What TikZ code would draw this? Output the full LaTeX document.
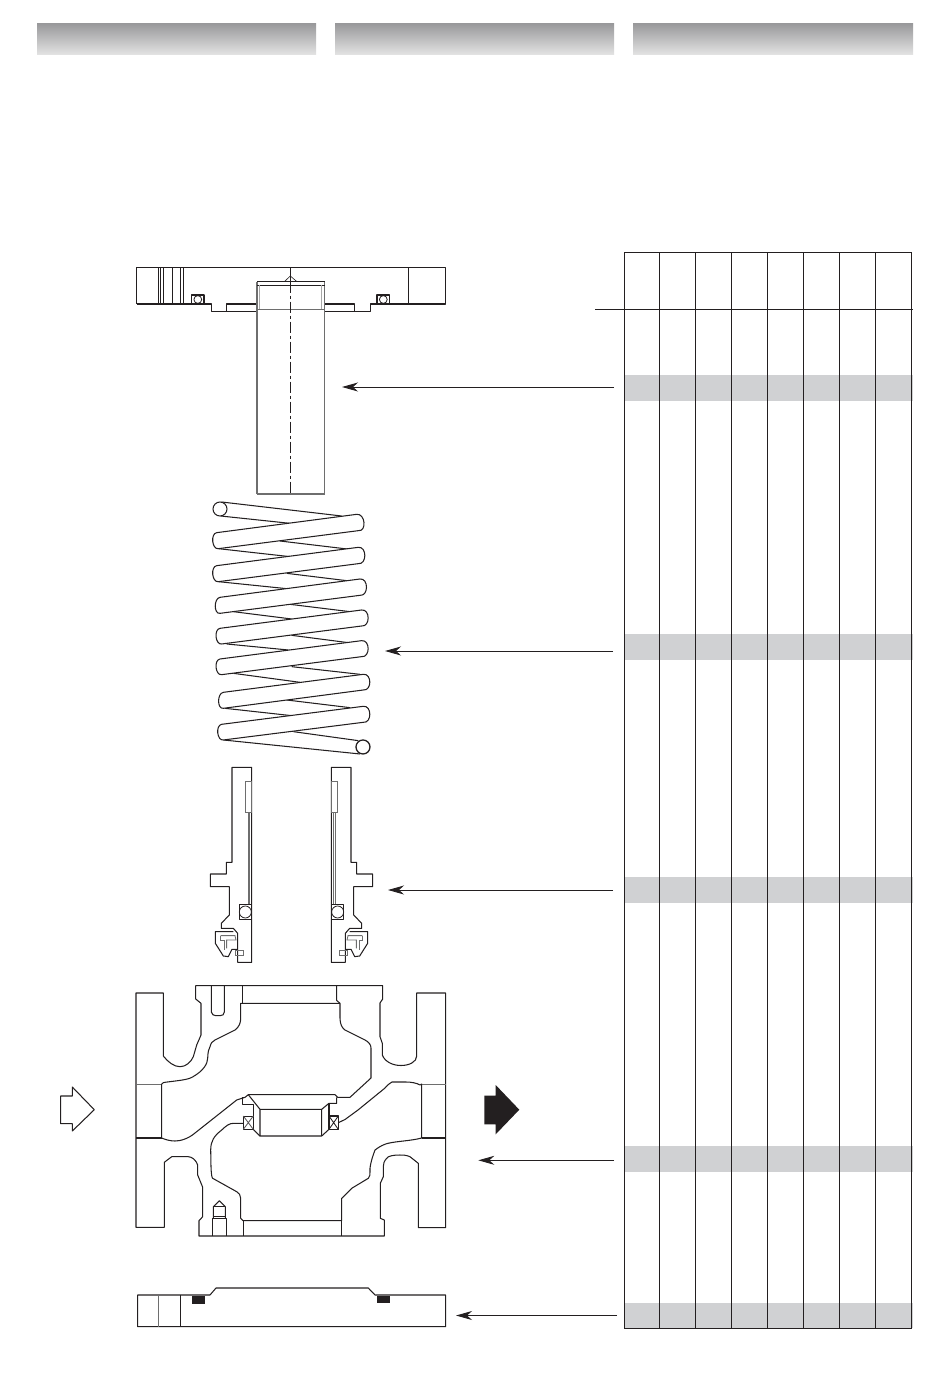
\documentclass[tikz,border=0pt]{standalone}
\usetikzlibrary{arrows.meta}
\definecolor{inkc}{HTML}{231F20}
\definecolor{bandc}{HTML}{D0D1D3}
\definecolor{headtop}{HTML}{9A9A9C}
\definecolor{headbot}{HTML}{E4E4E4}
\definecolor{softc}{HTML}{6E6E6E}
\tikzset{
  part/.style={draw=inkc,line width=1.05pt,line join=round},
  thinpart/.style={draw=inkc,line width=0.8pt,line join=round},
  softpart/.style={draw=softc,line width=0.85pt},
  grid/.style={draw=inkc,line width=0.95pt},
  band/.style={fill=bandc,draw=none},
  headbar/.style={top color=headtop,bottom color=headbot,draw=none},
  leader/.style={draw=inkc,line width=0.9pt,-{Stealth[length=16pt,width=9pt,inset=5pt]}},
}
\newcommand{\halfpiece}{%
  \draw[part] (96,22) -- (96,307) -- (79,307) -- (79,342) -- (31,342) -- (31,380) -- (88,380) -- (88,465) -- (64,490) -- (64,505) -- (100,505) -- (113,520) -- (113,607) -- (155,607) -- (155,22) -- cycle;
  \draw[softpart] (136,63) rectangle (155,157);
  \draw[softpart,line width=0.7pt] (144,157) -- (144,433);
  \draw[softpart,line width=0.7pt] (148.5,157) -- (148.5,433);
  \draw[part] (118,433) rectangle (155,478);
  \draw[thinpart] (136,456) circle[radius=6pt];
  \draw[part] (100,515) -- (46,515) -- (46,550) -- (70,588) -- (85,590) -- (96,568) -- (113,568);
  \draw[softpart] (62,527) -- (105,527) -- (108,540) -- (80,540) -- (80,565);
  \draw[softpart] (62,527) -- (62,540) -- (72,540) -- (72,570);
  \draw[softpart] (106,570) rectangle (130,586);
}
\newcommand{\frontcoil}[8]{%
  \draw[part,fill=white] (#1,#2) -- (#5,#6) .. controls +(26,-3) and (#7+26,#8+3) .. (#7,#8) -- (#3,#4) .. controls +(-19,3) and (#1-19,#2+3) .. cycle;
}
\begin{document}
\begin{tikzpicture}[x=1pt,y=-1pt]
\useasboundingbox (0,0) rectangle (950,1388);
% headers
\shade[headbar] (37,24) rectangle (316,55);
\shade[headbar] (335,24) rectangle (614,55);
\shade[headbar] (633,24) rectangle (913,55);
% table
\foreach \ya/\yb in {375/401,634/660,877/903,1146/1172,1303/1328}
  \fill[band] (625,\ya) rectangle (913,\yb);
\foreach \xx in {659.5,695.5,731.5,767.5,803.5,839.5,875.5}
  \draw[grid] (\xx,252.5) -- (\xx,1328.5);
\draw[grid] (624.5,252.5) rectangle (911.5,1328.5);
\draw[grid] (595,309.5) -- (913,309.5);
% top flange
\draw[part] (136.5,304) -- (136.5,267.5) -- (445.5,267.5) -- (445.5,304) -- (370.5,304) -- (370.5,311.3) -- (354.5,311.3) -- (354.5,304) -- (324.5,304);
\draw[part] (257,304) -- (226.3,304) -- (226.3,311.3) -- (211.7,311.3) -- (211.7,304) -- (136.5,304);
\draw[part] (226.3,311.3) -- (257,311.3);
\draw[part] (324.5,311.3) -- (354.5,311.3);
\foreach \xx in {158.3,160.7,163.7,172.3,180.3,408.3}
  \draw[part,line width=0.7pt] (\xx,267.5) -- (\xx,304);
\draw[part,line width=1.3pt] (183.3,267.5) -- (183.3,304);
\draw[part] (191.7,295) rectangle (204,304);
\draw[thinpart] (197.8,299.5) circle[radius=3.9pt];
\draw[part] (377,295) rectangle (389.7,304);
\draw[thinpart] (383.3,299.5) circle[radius=3.9pt];
% shaft
\draw[softpart,line width=1.2pt] (257,494) -- (257,281.7);
\draw[softpart,line width=1.2pt] (324.5,494) -- (324.5,281.7);
\draw[softpart,line width=1.2pt] (257,494) -- (324.5,494);
\draw[part] (257,281.7) -- (324.5,281.7);
\draw[part,line width=0.7pt] (257,285) -- (324.5,285);
\draw[softpart,draw=softc!60] (259.5,285) -- (259.5,309);
\draw[softpart,draw=softc!60] (321.5,285) -- (321.5,309);
\draw[softpart] (257,309) -- (324.5,309);
\draw[part,line width=0.6pt] (284.3,281.7) -- (290.3,276) -- (297,281.7);
\draw[part] (290.3,267.5) -- (290.3,281.7);
\draw[part,line width=0.8pt,dash pattern=on 11pt off 3pt on 3pt off 3pt] (290.3,281.7) -- (290.3,494);
% spring
\begin{scope}[shift={(190,490)},x=0.3333pt,y=-0.3333pt]
  \foreach \a/\b/\c/\d in {95/36/455/78,92/78/300/100,270/153/480/178,85/176/300/200,290/250/470/272,85/275/300/297,300/343/480/365,130/365/305/387,305/436/475/458,110/462/295/480,305/530/510/553,130/550/330/577,290/630/480/653,105/655/305/677,310/725/505/752,100/750/510/792}
    \draw[part] (\a,\b) -- (\c,\d);
  \frontcoil{80}{128}{85}{176}{500}{73}{505}{122}
  \frontcoil{80}{227}{85}{275}{505}{172}{505}{221}
  \frontcoil{90}{322}{90}{370}{510}{267}{510}{316}
  \frontcoil{90}{415}{95}{462}{515}{360}{515}{408}
  \frontcoil{90}{507}{95}{554}{515}{452}{515}{500}
  \frontcoil{100}{607}{100}{655}{520}{553}{520}{600}
  \frontcoil{95}{703}{100}{750}{520}{649}{520}{697}
  \draw[part,fill=white] (90,57) circle[radius=7pt];
  \draw[part,fill=white,line width=1.3pt] (519,771) circle[radius=7pt];
\end{scope}
% split ring halves
\begin{scope}[shift={(200,760)},x=0.3333pt,y=-0.3333pt]
  \halfpiece
\end{scope}
\begin{scope}[shift={(383,760)},x=-0.3333pt,y=-0.3333pt]
  \halfpiece
\end{scope}
% valve body outer contour
\draw[part] (136,993) -- (163.3,993) -- (163.3,1056) .. controls (168,1062) and (174,1066.7) .. (180,1066.7) .. controls (186,1066.7) and (191,1062) .. (193.3,1056.7) -- (196.7,1045) -- (201,1035) -- (201,1003.3) -- (195.7,999) -- (195.7,985.7) -- (382.7,985.7) -- (382.7,999) -- (380,1003) -- (380,1036.7) -- (382.3,1043.3) -- (382.3,1055) .. controls (385,1062) and (393,1065.5) .. (401,1065.5) .. controls (409,1065.5) and (416.7,1062) .. (416.7,1056) -- (416.7,993) -- (445.7,993) -- (445.7,1227.7) -- (418.3,1227.7) -- (418.3,1163.3) -- (410,1156.7) .. controls (406,1155) and (403,1155) .. (400,1155) .. controls (393,1155) and (388,1156) .. (386.7,1158.3) .. controls (384,1161) and (383.3,1164) .. (383.3,1166.7) -- (383.3,1176.7) -- (380.3,1183.3) -- (380.3,1218.3) -- (384.3,1220) -- (384.3,1236) -- (199,1236) -- (199,1220.7) -- (202.7,1216.7) -- (202.7,1187.3) -- (197.7,1175) -- (197.7,1165) .. controls (196,1160) and (192,1156.7) .. (188.3,1156.7) -- (171.7,1156.7) -- (164.3,1162.3) -- (164.3,1227.3) -- (136,1227.3) -- cycle;
% flange cross lines
\draw[softpart,line width=1pt] (136,1084) -- (161.7,1084);
\draw[part] (136,1138) -- (161.7,1138);
\draw[softpart,line width=1pt] (421.7,1084) -- (445.7,1084);
\draw[part] (421.7,1138) -- (445.7,1138);
% upper chamber
\draw[part] (161.7,1138) -- (161.7,1084) .. controls (163,1082.5) and (164,1082.3) .. (165,1082.3) .. controls (178,1080.5) and (188,1080) .. (193,1076.7) .. controls (203,1071) and (207.7,1064) .. (207.7,1058) .. controls (208,1052) and (208.5,1049) .. (210,1046.7) .. controls (211,1043) and (212,1041.5) .. (215,1040) -- (235,1030) .. controls (239,1027) and (240.7,1023) .. (240.7,1018.3) -- (240.7,1003.3) -- (340,1003.3) -- (340,1018) .. controls (340,1024) and (342,1028) .. (345,1030) -- (365,1040) .. controls (369,1042) and (371,1045) .. (371,1048) -- (371,1078) -- (350,1097.3) -- (337.7,1097.3) -- (335,1094.7) -- (248.3,1094.7) -- (245,1097.3) -- (236.7,1100) -- (195,1133) .. controls (188,1139) and (180,1141) .. (175,1141) .. controls (170,1141) and (165,1139.5) .. (161.7,1138);
% bonnet seat
\draw[part] (242.7,985.7) -- (242.7,1003.3);
\draw[part] (336.7,985.7) -- (336.7,1000.5) -- (340,1003.3);
\draw[part] (211.3,985.7) -- (211.3,1012) .. controls (211.5,1014.5) and (214,1015.7) .. (216,1015.7) -- (220,1015.7) .. controls (222.5,1015.7) and (224.3,1014.5) .. (224.3,1012) -- (224.3,985.7);
% lower chamber
\draw[part] (243.3,1123.3) -- (233.5,1123.3) .. controls (229,1123.3) and (226,1126) .. (221.7,1130) .. controls (214,1136) and (210.7,1141) .. (210.7,1150) -- (211,1166.7) .. controls (211.3,1175) and (212,1178) .. (212.7,1178.3) -- (236.7,1191.7) .. controls (239,1193) and (240.7,1195) .. (240.7,1198.3) -- (240.7,1218.3) -- (243,1220.7) -- (341.7,1220.7) -- (341.7,1198.3) -- (351.7,1188.3) -- (368.3,1178.3) .. controls (370,1177) and (370,1175) .. (370,1168.3) .. controls (371,1160) and (374,1153) .. (375,1150) .. controls (380,1146) and (385,1144) .. (388,1143.3) .. controls (398,1141) and (410,1141) .. (421.7,1138) -- (421.7,1084) -- (420,1085) .. controls (417,1083) and (411,1082) .. (406,1082) .. controls (400,1082) and (394,1082) .. (392,1082) .. controls (389,1083) and (387,1086) .. (385,1088) -- (358,1110) -- (345,1119.5) -- (338.3,1122.7);
% bottom opening and bolt hole
\draw[part] (243.3,1220.7) -- (243.3,1236);
\draw[part,line width=1.4pt] (341.7,1220.7) -- (341.7,1236);
\draw[part] (212.3,1236) -- (212.3,1218.3) -- (226.7,1218.3) -- (226.7,1236);
\draw[part] (213.3,1218.3) -- (213.3,1206.7) -- (219.3,1200.7) -- (225.3,1206.7) -- (225.3,1218.3);
\draw[part,line width=0.7pt] (213.3,1206.7) -- (225.3,1206.7);
\draw[part,line width=0.7pt] (213.3,1216.7) -- (225.3,1216.7);
% central seat and plug
\draw[part] (248.3,1094.7) -- (260,1109.3) rectangle (321.7,1136);
\draw[part] (245,1097.3) -- (242.3,1097.3) -- (242.3,1104.3) -- (253.3,1104.3) -- (253.3,1116);
\draw[part] (253.3,1129.3) -- (260,1136);
\draw[part] (321.7,1136) -- (329,1129.3);
\draw[part] (321.7,1109.3) -- (329,1103.3) -- (336.7,1103.3) -- (336.7,1097.3);
\draw[part] (329,1103.3) -- (329,1116);
\draw[part,line width=1pt] (243.3,1116) rectangle (253.3,1129.3);
\draw[softpart,draw=inkc!75] (243.3,1116) -- (253.3,1129.3) (243.3,1129.3) -- (253.3,1116);
\draw[part,line width=1.2pt] (329,1116) rectangle (338.3,1129.3);
\draw[softpart,draw=inkc] (329,1116) -- (338.3,1129.3) (329,1129.3) -- (338.3,1116);
% bottom plate
\draw[part] (137.7,1295) -- (210,1295) -- (216,1288) -- (368.3,1288) -- (375,1295) -- (445.7,1295) -- (445.7,1326.7) -- (137.7,1326.7) -- cycle;
\draw[softpart,line width=1pt] (158.3,1295) -- (158.3,1326.7);
\draw[part] (180.7,1295) -- (180.7,1326.7);
\fill[inkc] (192,1295.7) rectangle (205,1303.7);
\fill[inkc] (377,1295.7) rectangle (390,1302.7);
% flow arrows
\draw[part] (60.7,1096) -- (72.3,1096) -- (72.3,1087) -- (94.3,1109.7) -- (72.3,1131) -- (72.3,1123.7) -- (60.7,1123.7) -- cycle;
\fill[inkc] (484.3,1095.7) -- (495.7,1095.7) -- (495.7,1085) -- (519.3,1109.7) -- (495.7,1134.3) -- (495.7,1124.3) -- (484.3,1124.3) -- cycle;
% leaders
\coordinate (la1) at (614,387); \coordinate (lb1) at (342,387);
\coordinate (la2) at (613,651); \coordinate (lb2) at (385,651);
\coordinate (la3) at (613,890); \coordinate (lb3) at (388,890);
\coordinate (la4) at (614,1160.3); \coordinate (lb4) at (478.3,1160.3);
\coordinate (la5) at (617,1315.5); \coordinate (lb5) at (456,1315.5);
\foreach \i in {1,...,5}
  \draw[leader] (la\i) -- (lb\i);
\end{tikzpicture}
\end{document}
